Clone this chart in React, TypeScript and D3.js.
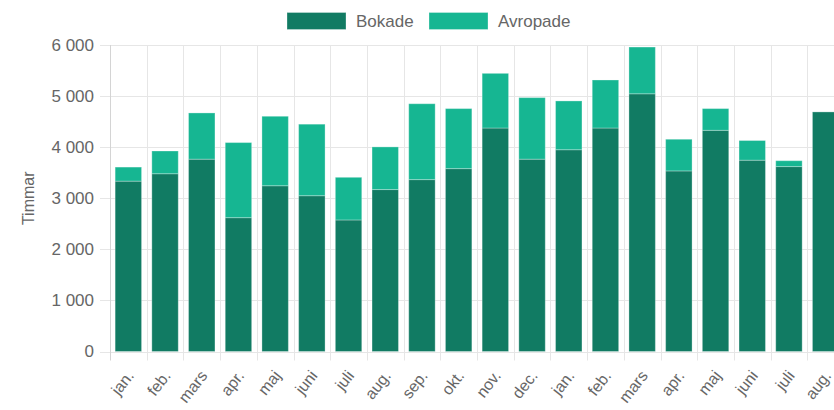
import { useEffect, useRef } from "react";
import * as d3 from "d3";

const months = [
  "jan.", "feb.", "mars", "apr.", "maj", "juni", "juli", "aug.", "sep.", "okt.", "nov.", "dec.",
  "jan.", "feb.", "mars", "apr.", "maj", "juni", "juli", "aug.",
];
const bokade = [
  3335, 3480, 3765, 2620, 3245, 3050, 2575, 3170, 3365, 3580, 4375, 3765,
  3950, 4375, 5045, 3535, 4330, 3745, 3620, 4690,
];
const avropade = [
  275, 445, 905, 1470, 1360, 1400, 835, 835, 1485, 1175, 1070, 1205,
  955, 940, 915, 620, 425, 385, 115, 0,
];
const yTicks = [0, 1000, 2000, 3000, 4000, 5000, 6000];
const seriesNames = ["Bokade", "Avropade"];
const seriesColors = ["#117b63", "#16b692"];

const FONT = "'Liberation Sans', Arial, Helvetica, sans-serif";
const TEXT = "#666";
const GRID = "#e6e6e6";

export default function App() {
  const svgRef = useRef<SVGSVGElement>(null);

  useEffect(() => {
    const svg = svgRef.current;
    if (!svg) return;
    const sel = d3.select(svg);
    sel.selectAll("*").remove();

    const margin = { top: 45, left: 110, bottom: 58.5 };
    const height = 410;
    const plotRight = 844;
    const plotBottom = height - margin.bottom;

    const x = d3
      .scaleBand<number>()
      .domain(d3.range(months.length))
      .range([margin.left, plotRight]);
    const y = d3.scaleLinear().domain([0, 6000]).range([plotBottom, margin.top]);

    const fmt = d3.formatLocale({
      decimal: ",",
      thousands: " ",
      grouping: [3],
      currency: ["", " kr"],
    }).format(",d");

    // horizontal grid + y tick marks
    sel.append("g")
      .selectAll("line")
      .data(yTicks)
      .enter()
      .append("line")
      .attr("x1", margin.left - 10)
      .attr("x2", plotRight)
      .attr("y1", (d) => Math.round(y(d)) + 0.5)
      .attr("y2", (d) => Math.round(y(d)) + 0.5)
      .attr("stroke", GRID);

    // vertical grid at category boundaries + x tick marks
    const bounds = d3.range(months.length + 1).map((i) =>
      i < months.length ? x(i)! : plotRight
    );
    sel.append("g")
      .selectAll("line")
      .data(bounds)
      .enter()
      .append("line")
      .attr("x1", (d) => Math.round(d) + 0.5)
      .attr("x2", (d) => Math.round(d) + 0.5)
      .attr("y1", margin.top)
      .attr("y2", plotBottom + 9)
      .attr("stroke", (d, i) => (i === 0 ? "#d4d4d4" : GRID));

    // stacked bars
    const rows = months.map((m, i) => ({ i, bokade: bokade[i], avropade: avropade[i] }));
    const stack = d3.stack<{ i: number; bokade: number; avropade: number }>()
      .keys(["bokade", "avropade"])(rows);

    const bw = x.bandwidth() * 0.72;
    stack.forEach((layer, li) => {
      sel.append("g")
        .selectAll("rect")
        .data(layer)
        .enter()
        .append("rect")
        .attr("x", (d) => x(d.data.i)! + (x.bandwidth() - bw) / 2)
        .attr("width", bw)
        .attr("y", (d) => y(d[1]))
        .attr("height", (d) => Math.max(0, y(d[0]) - y(d[1])))
        .attr("fill", seriesColors[li])
        .attr("stroke", "rgba(255,255,255,0.3)")
        .attr("stroke-width", 1);
    });

    // y tick labels
    sel.append("g")
      .selectAll("text")
      .data(yTicks)
      .enter()
      .append("text")
      .attr("x", 94)
      .attr("y", (d) => y(d))
      .attr("dy", "0.35em")
      .attr("text-anchor", "end")
      .attr("font-family", FONT)
      .attr("font-size", 17)
      .attr("fill", TEXT)
      .text((d) => fmt(d));

    // x tick labels
    sel.append("g")
      .selectAll("text")
      .data(months)
      .enter()
      .append("text")
      .attr(
        "transform",
        (d, i) => `translate(${x(i)! + x.bandwidth() / 2 + 2},${plotBottom + 21}) rotate(-52)`
      )
      .attr("dy", "0.35em")
      .attr("text-anchor", "end")
      .attr("font-family", FONT)
      .attr("font-size", 16)
      .attr("fill", TEXT)
      .text((d) => d);

    // y axis title
    sel.append("text")
      .attr("transform", `translate(28,${(margin.top + plotBottom) / 2}) rotate(-90)`)
      .attr("dy", "0.35em")
      .attr("text-anchor", "middle")
      .attr("font-family", FONT)
      .attr("font-size", 16)
      .attr("fill", TEXT)
      .text("Timmar");

    // legend
    const legendX = [287, 429];
    const legend = sel.append("g");
    seriesNames.forEach((name, i) => {
      legend.append("rect")
        .attr("x", legendX[i])
        .attr("y", 12.5)
        .attr("width", 59)
        .attr("height", 17)
        .attr("fill", seriesColors[i])
        .attr("stroke", "rgba(255,255,255,0.3)");
      legend.append("text")
        .attr("x", legendX[i] + 69)
        .attr("y", 21)
        .attr("dy", "0.35em")
        .attr("font-family", FONT)
        .attr("font-size", 17)
        .attr("fill", TEXT)
        .text(name);
    });
  }, []);

  return (
    <div style={{ position: "fixed", left: 0, top: 0, width: 834, height: 410, overflow: "hidden", background: "#fff" }}>
      <svg ref={svgRef} width={834} height={410} />
    </div>
  );
}
